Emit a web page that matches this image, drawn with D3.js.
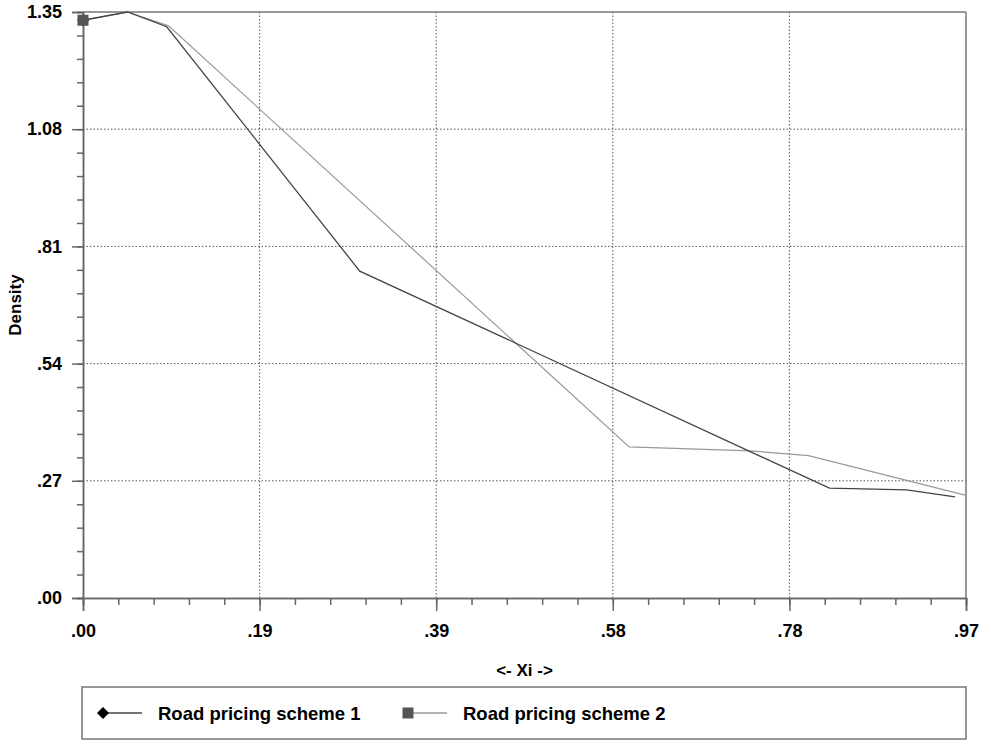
<!DOCTYPE html>
<html>
<head>
<meta charset="utf-8">
<script src="https://cdn.jsdelivr.net/npm/d3@7"></script>
<style>
  body { margin: 0; background: #fff; }
  text { font-family: "Liberation Sans", Arial, sans-serif; font-weight: bold; fill: #000; }
</style>
</head>
<body>
<div id="chart"></div>
<script>
// data
const seriesNames = ['Road pricing scheme 1', 'Road pricing scheme 2'];
const xi1 = [0, 0.049, 0.092, 0.304, 0.820, 0.905, 0.958];
const density1 = [1.331, 1.350, 1.316, 0.753, 0.253, 0.249, 0.233];
const xi2 = [0, 0.049, 0.094, 0.600, 0.733, 0.797, 0.969];
const density2 = [1.331, 1.350, 1.318, 0.348, 0.339, 0.328, 0.237];
const xTickLabels = ['.00', '.19', '.39', '.58', '.78', '.97'];
const yTickLabels = ['.00', '.27', '.54', '.81', '1.08', '1.35'];

const width = 985, height = 742;
const margin = { left: 83, top: 12, right: 19, bottom: 144 };
const x0 = margin.left, x1 = width - margin.right;
const y0 = margin.top, y1 = height - margin.bottom;

const x = d3.scaleLinear().domain([0, 0.97]).range([x0, x1]);
const y = d3.scaleLinear().domain([0, 1.35]).range([y1, y0]);

const xMajor = d3.range(6).map(i => i * 0.97 / 5);
const xMinor = d3.range(26).map(i => i * 0.97 / 25);
const yMajor = d3.range(6).map(i => i * 1.35 / 5);
const yMinor = d3.range(26).map(i => i * 1.35 / 25);

const svg = d3.select('#chart').append('svg')
  .attr('width', width)
  .attr('height', height);

// grid
svg.append('g').selectAll('line')
  .data(xMajor.slice(1, -1))
  .enter().append('line')
  .attr('x1', d => x(d)).attr('x2', d => x(d))
  .attr('y1', y0).attr('y2', y1)
  .attr('stroke', '#555').attr('stroke-width', 1)
  .attr('stroke-dasharray', '1.5,2');

svg.append('g').selectAll('line')
  .data(yMajor.slice(1, -1))
  .enter().append('line')
  .attr('x1', x0).attr('x2', x1)
  .attr('y1', d => y(d)).attr('y2', d => y(d))
  .attr('stroke', '#555').attr('stroke-width', 1)
  .attr('stroke-dasharray', '1.5,2');

// frame top/right
svg.append('line').attr('x1', x0).attr('x2', x1).attr('y1', y0).attr('y2', y0)
  .attr('stroke', '#777').attr('stroke-width', 1.5);
svg.append('line').attr('x1', x1).attr('x2', x1).attr('y1', y0).attr('y2', y1)
  .attr('stroke', '#777').attr('stroke-width', 1.5);

// axes
const xAxisMinor = d3.axisBottom(x).tickValues(xMinor).tickSize(7).tickFormat('');
const xAxis = d3.axisBottom(x).tickValues(xMajor).tickSize(13).tickPadding(13)
  .tickFormat((d, i) => xTickLabels[i]);
const yAxisMinor = d3.axisLeft(y).tickValues(yMinor).tickSize(6).tickFormat('');
const yAxis = d3.axisLeft(y).tickValues(yMajor).tickSize(11).tickPadding(10)
  .tickFormat((d, i) => yTickLabels[i]);

function styleAxis(g) {
  g.select('.domain').attr('stroke', '#666').attr('stroke-width', 1.5);
  g.selectAll('.tick line').attr('stroke', '#666').attr('stroke-width', 1.5);
  g.selectAll('text').attr('font-size', 18).attr('font-weight', 'bold')
    .attr('font-family', '"Liberation Sans", Arial, sans-serif').attr('fill', '#000');
}

svg.append('g').attr('transform', `translate(0,${y1})`).call(xAxisMinor).call(styleAxis);
svg.append('g').attr('transform', `translate(0,${y1})`).call(xAxis).call(styleAxis);
svg.append('g').attr('transform', `translate(${x0},0)`).call(yAxisMinor).call(styleAxis);
svg.append('g').attr('transform', `translate(${x0},0)`).call(yAxis).call(styleAxis);

// axis titles
svg.append('text')
  .attr('x', (x0 + x1) / 2).attr('y', 676)
  .attr('text-anchor', 'middle').attr('font-size', 17)
  .text('<- Xi ->');
svg.append('text')
  .attr('transform', `translate(21,${(y0 + y1) / 2}) rotate(-90)`)
  .attr('text-anchor', 'middle').attr('font-size', 17)
  .text('Density');

// lines
const line = d3.line().x(d => x(d[0])).y(d => y(d[1]));
const pts1 = xi1.map((v, i) => [v, density1[i]]);
const pts2 = xi2.map((v, i) => [v, density2[i]]);

svg.append('path').datum(pts2)
  .attr('d', line).attr('fill', 'none')
  .attr('stroke', '#999').attr('stroke-width', 1.2);
svg.append('path').datum(pts1)
  .attr('d', line).attr('fill', 'none')
  .attr('stroke', '#444').attr('stroke-width', 1.3);

// markers at first point (diamond = rotated square)
const diamond = d3.symbol().type(d3.symbolSquare).size(72);
const square = d3.symbol().type(d3.symbolSquare).size(121);
svg.append('path').attr('d', diamond)
  .attr('transform', `translate(${x(pts1[0][0])},${y(pts1[0][1])}) rotate(45)`)
  .attr('fill', '#000');
svg.append('path').attr('d', square)
  .attr('transform', `translate(${x(pts2[0][0])},${y(pts2[0][1])})`)
  .attr('fill', '#555');

// legend
const legend = svg.append('g');
legend.append('rect')
  .attr('x', 82).attr('y', 687).attr('width', x1 - 82).attr('height', 52)
  .attr('fill', 'none').attr('stroke', '#777').attr('stroke-width', 1.5);

const legendItems = [
  { name: seriesNames[0], color: '#444', sym: diamond, rot: 45, symColor: '#000', x: 103 },
  { name: seriesNames[1], color: '#999', sym: square, rot: 0, symColor: '#555', x: 408 }
];
legendItems.forEach(it => {
  legend.append('line')
    .attr('x1', it.x).attr('x2', it.x + 39)
    .attr('y1', 713).attr('y2', 713)
    .attr('stroke', it.color).attr('stroke-width', 1.3);
  legend.append('path').attr('d', it.sym)
    .attr('transform', `translate(${it.x},713) rotate(${it.rot})`)
    .attr('fill', it.symColor);
  legend.append('text')
    .attr('x', it.x + 55).attr('y', 720)
    .attr('font-size', 18.5)
    .text(it.name);
});
</script>
</body>
</html>
